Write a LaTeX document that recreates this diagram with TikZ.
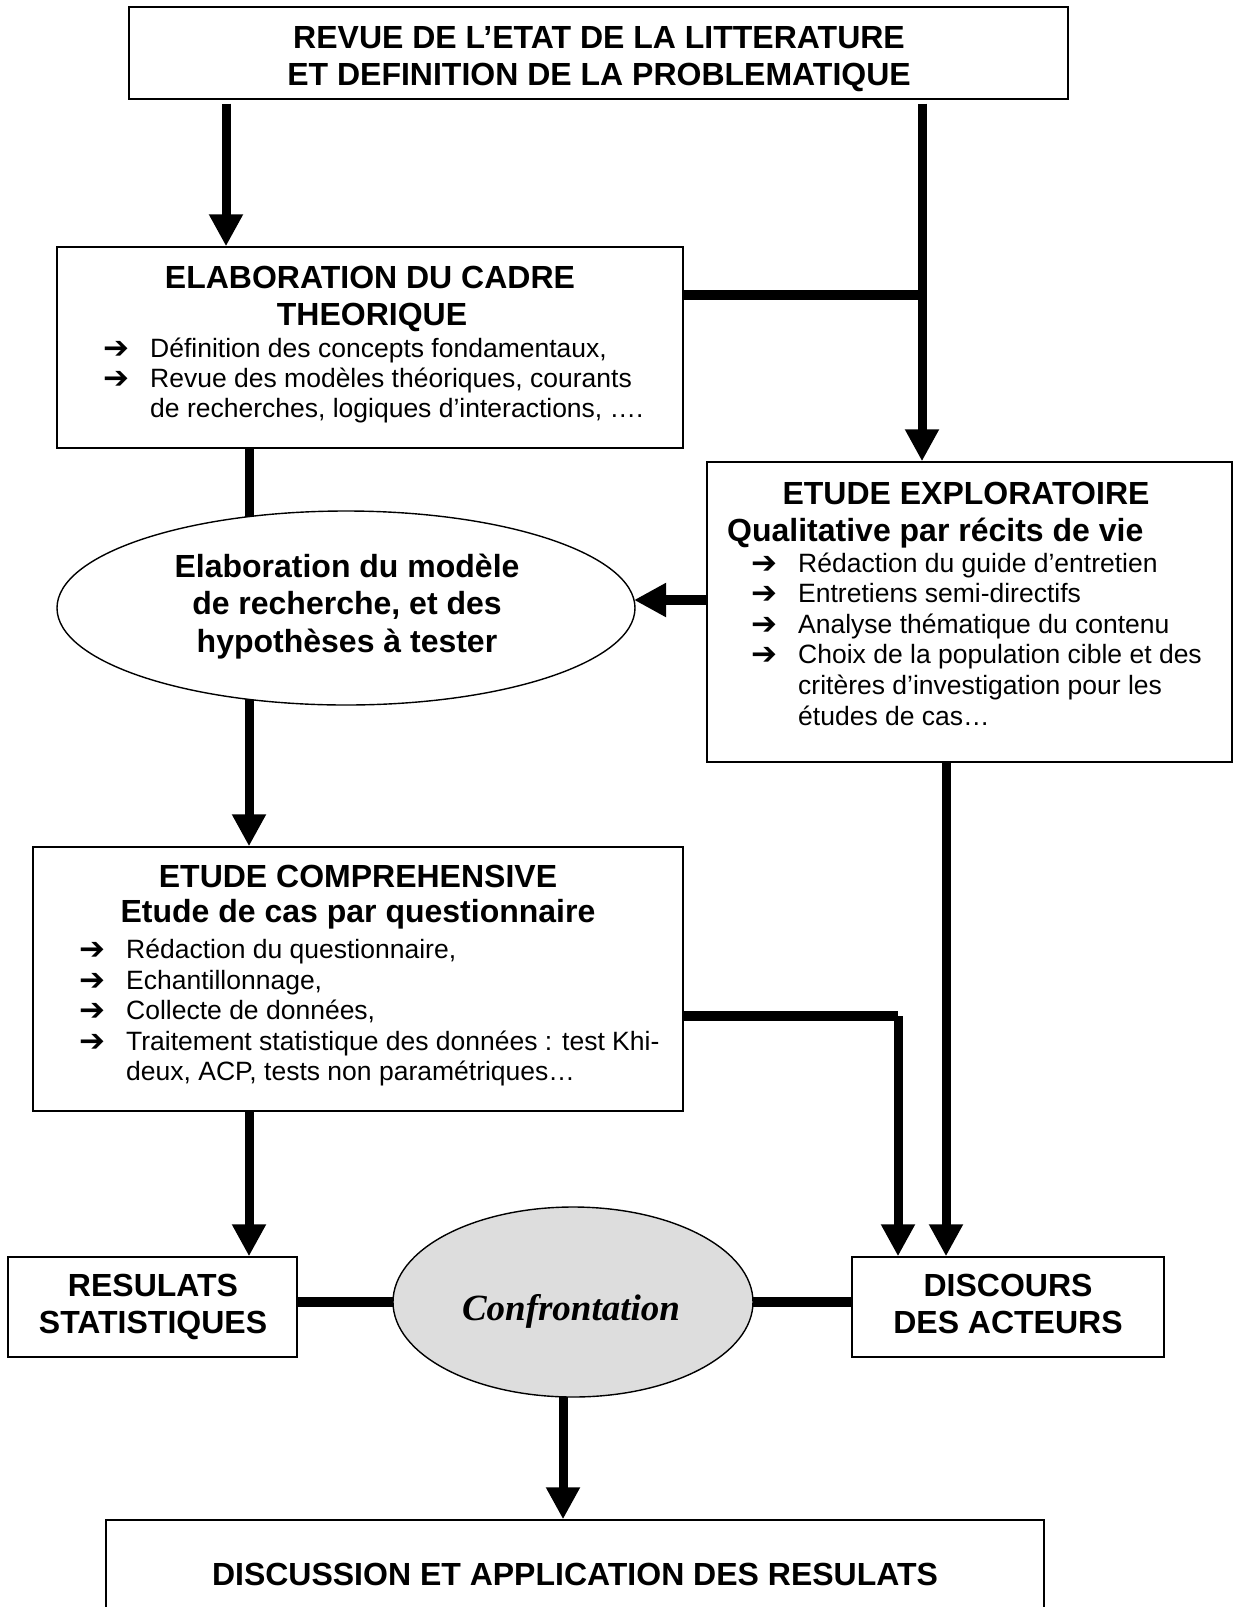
\documentclass[tikz,border=0pt]{standalone}
\usepackage{fontspec}
\setmainfont{Liberation Sans}
\newfontfamily\timesbi{Liberation Serif}
\newfontfamily\dvs{DejaVu Sans}
\usetikzlibrary{arrows.meta,shapes.geometric,backgrounds}
\definecolor{confgray}{HTML}{DDDDDD}
\begin{document}
\begin{tikzpicture}[x=1pt,y=-1pt,
  box/.style={draw, rectangle, line width=1.4pt, fill=white, inner sep=0pt},
  ell/.style={draw, ellipse, line width=1.4pt, fill=white, inner sep=0pt},
  conn/.style={line width=9pt},
  hconn/.style={line width=10pt},
  arr/.style={line width=9pt, -{Triangle[width=32pt,length=32pt]}},
  harr/.style={line width=10pt, -{Triangle[width=32pt,length=32pt]}},
  hd/.style={font=\fontsize{32}{37}\selectfont\bfseries, inner sep=0pt, anchor=base},
  hdw/.style={font=\fontsize{32}{37}\selectfont\bfseries, inner sep=0pt, anchor=base west},
  bl/.style={font=\fontsize{26.5}{30}\selectfont, inner sep=0pt, anchor=base west},
  ba/.style={font=\fontsize{31}{30}\selectfont\dvs\bfseries, inner sep=0pt, anchor=base west}]
\useasboundingbox (0,0) rectangle (1235,1607);
\clip (0,0) rectangle (1235,1607);

% boxes and ellipses
\node[box, minimum width=939pt, minimum height=92pt] (top) at (598.5,53) {};
\node[box, minimum width=626pt, minimum height=201pt] (elab) at (370,347.5) {};
\node[ell, minimum width=578pt, minimum height=194pt] (ell1) at (346,608) {};
\node[box, minimum width=525pt, minimum height=300pt] (expl) at (969.5,612) {};
\node[box, minimum width=650pt, minimum height=264pt] (comp) at (358,979) {};
\node[box, minimum width=289pt, minimum height=100pt] (res) at (152.5,1307) {};
\node[box, minimum width=312pt, minimum height=100pt] (disc) at (1008,1307) {};
\node[ell, fill=confgray, minimum width=360pt, minimum height=190pt] (conf) at (573,1302) {};
\node[box, minimum width=938pt, minimum height=140pt] (dis) at (575,1590) {};

% helper coordinates
\coordinate (xa) at (226,0);
\coordinate (xr) at (922,0);
\coordinate (xl) at (249,0);
\coordinate (xe) at (946,0);
\coordinate (xc) at (898,0);
\coordinate (xd) at (563,0);
\coordinate (yh) at (0,295);
\coordinate (ym) at (0,600);
\coordinate (ymtip) at (634,600);
\coordinate (yc) at (0,1016);
\coordinate (jr) at (922,295);
\coordinate (jc) at (898,1016);

\begin{scope}[on background layer]
  \fill[white] (0,0) rectangle (1235,1607);
  \draw[arr, shorten <=4pt] (top.south -| xa) -- (elab.north -| xa);
  \draw[arr, shorten <=4pt] (top.south -| xr) -- (expl.north -| xr);
  \draw[hconn] (elab.east |- yh) -- (jr);
  \draw[conn] (elab.south -| xl) -- (ell1.center -| xl);
  \draw[harr] (expl.west |- ym) -- (ymtip);
  \draw[arr] (ell1.center -| xl) -- (comp.north -| xl);
  \draw[arr] (expl.south -| xe) -- (disc.north -| xe);
  \draw[hconn] (comp.east |- yc) -- (jc);
  \draw[arr] (jc) -- (disc.north -| xc);
  \draw[arr] (comp.south -| xl) -- (res.north -| xl);
  \draw[hconn] (res.east |- conf.center) -- (conf.center);
  \draw[hconn] (conf.center) -- (disc.west |- conf.center);
  \draw[arr] (conf.center -| xd) -- (dis.north -| xd);
\end{scope}

% top box text
\node[hd] (t1) at (599,48) {REVUE DE L’ETAT DE LA LITTERATURE};
\node[hd] (t2) at (599,85) {ET DEFINITION DE LA PROBLEMATIQUE};

% elaboration box
\node[hd] (e1) at (370,288) {ELABORATION DU CADRE};
\node[hd] (e2) at (372,325) {THEORIQUE};
\node[ba] (ea1) at (103,358) {➔};
\node[bl] (eb1) at (150,357) {Définition des concepts fondamentaux,};
\node[ba] (ea2) at (103,388) {➔};
\node[bl] (eb2) at (150,387) {Revue des modèles théoriques, courants};
\node[bl] (eb3) at (150,417) {de recherches, logiques d’interactions, ….};

% ellipse 1
\node[hd] (m1) at (347,577) {Elaboration du modèle};
\node[hd] (m2) at (347,614) {de recherche, et des};
\node[hd] (m3) at (347,652) {hypothèses à tester};

% exploratoire
\node[hd] (x1) at (966,504) {ETUDE EXPLORATOIRE};
\node[hdw] (x2) at (727,541) {Qualitative par récits de vie};
\node[ba] (xa1) at (751,573) {➔};
\node[bl] (xb1) at (798,572) {Rédaction du guide d’entretien};
\node[ba] (xa2) at (751,603) {➔};
\node[bl] (xb2) at (798,602) {Entretiens semi-directifs};
\node[ba] (xa3) at (751,634) {➔};
\node[bl] (xb3) at (798,633) {Analyse thématique du contenu};
\node[ba] (xa4) at (751,664) {➔};
\node[bl] (xb4) at (798,663) {Choix de la population cible et des};
\node[bl] (xb5) at (798,694) {critères d’investigation pour les};
\node[bl] (xb6) at (798,725) {études de cas…};

% comprehensive
\node[hd] (c1) at (358,887) {ETUDE COMPREHENSIVE};
\node[hd] (c2) at (358,922) {Etude de cas par questionnaire};
\node[ba] (ca1) at (79,959) {➔};
\node[bl] (cb1) at (126,958) {Rédaction du questionnaire,};
\node[ba] (ca2) at (79,990) {➔};
\node[bl] (cb2) at (126,989) {Echantillonnage,};
\node[ba] (ca3) at (79,1020) {➔};
\node[bl] (cb3) at (126,1019) {Collecte de données,};
\node[ba] (ca4) at (79,1051) {➔};
\node[bl] (cb4) at (126,1050) {Traitement statistique des données : test Khi-};
\node[bl] (cb5) at (126,1080) {deux, ACP, tests non paramétriques…};

% bottom row
\node[hd] (r1) at (153,1296) {RESULATS};
\node[hd] (r2) at (153,1333) {STATISTIQUES};
\node[hd] (d1) at (1008,1296) {DISCOURS};
\node[hd] (d2) at (1008,1333) {DES ACTEURS};
\node[inner sep=0pt, anchor=base, font=\fontsize{37}{42}\selectfont\timesbi\bfseries\itshape] (ct) at (571,1320) {Confrontation};
\node[hd] (dt) at (575,1585) {DISCUSSION ET APPLICATION DES RESULATS};
\end{tikzpicture}
\end{document}
